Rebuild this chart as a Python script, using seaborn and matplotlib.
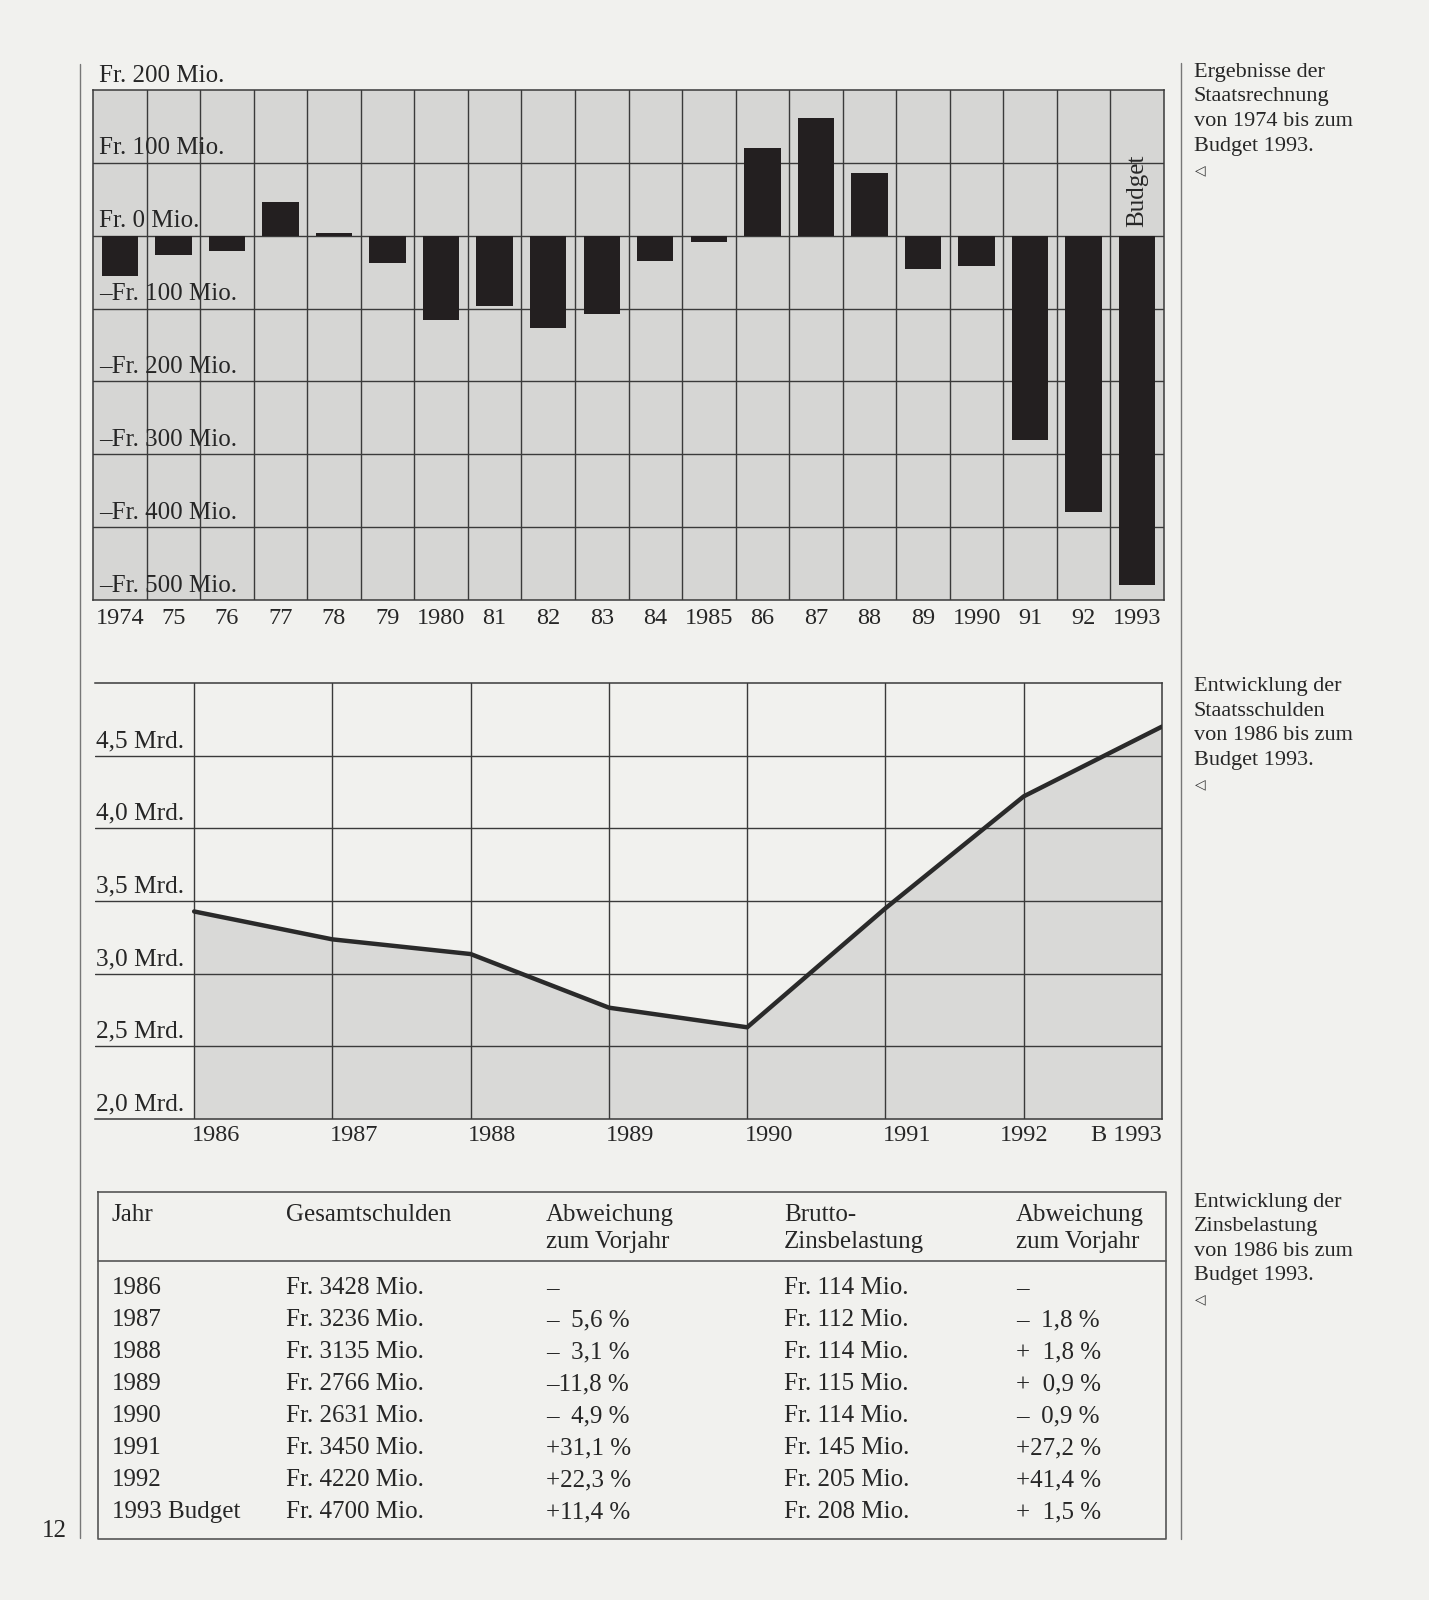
import matplotlib
matplotlib.use("Agg")
import matplotlib.pyplot as plt
import matplotlib.transforms as mtransforms
import seaborn as sns
import pandas as pd

# ---------------- data ----------------
bar_years = ['1974', '75', '76', '77', '78', '79', '1980', '81', '82', '83',
             '84', '1985', '86', '87', '88', '89', '1990', '91', '92', '1993']
bar_balance = [-55, -27, -21, 46, 4, -37, -116, -96, -127, -107,
               -35, -9, 121, 161, 86, -46, -41, -281, -379, -479]
bar_ticks = [200, 100, 0, -100, -200, -300, -400, -500]
bar_tick_labels = ['Fr. 200 Mio.', 'Fr. 100 Mio.', 'Fr. 0 Mio.', '–Fr. 100 Mio.',
                   '–Fr. 200 Mio.', '–Fr. 300 Mio.', '–Fr. 400 Mio.', '–Fr. 500 Mio.']

debt_years = [1986, 1987, 1988, 1989, 1990, 1991, 1992, 1993]
debt_mrd = [3.428, 3.236, 3.135, 2.766, 2.631, 3.450, 4.220, 4.700]
debt_ticks = [2.0, 2.5, 3.0, 3.5, 4.0, 4.5]
debt_tick_labels = ['2,0 Mrd.', '2,5 Mrd.', '3,0 Mrd.', '3,5 Mrd.', '4,0 Mrd.', '4,5 Mrd.']
debt_xlabels = ['1986', '1987', '1988', '1989', '1990', '1991', '1992', 'B 1993']

table_head1 = ['Jahr', 'Gesamtschulden', 'Abweichung', 'Brutto-', 'Abweichung']
table_head2 = ['', '', 'zum Vorjahr', 'Zinsbelastung', 'zum Vorjahr']
table_jahr = ['1986', '1987', '1988', '1989', '1990', '1991', '1992', '1993 Budget']
table_gesamt = ['Fr. 3428 Mio.', 'Fr. 3236 Mio.', 'Fr. 3135 Mio.', 'Fr. 2766 Mio.',
                'Fr. 2631 Mio.', 'Fr. 3450 Mio.', 'Fr. 4220 Mio.', 'Fr. 4700 Mio.']
table_abw1 = ['–', '–  5,6 %', '–  3,1 %', '–11,8 %', '–  4,9 %', '+31,1 %', '+22,3 %', '+11,4 %']
table_zins = ['Fr. 114 Mio.', 'Fr. 112 Mio.', 'Fr. 114 Mio.', 'Fr. 115 Mio.',
              'Fr. 114 Mio.', 'Fr. 145 Mio.', 'Fr. 205 Mio.', 'Fr. 208 Mio.']
table_abw2 = ['–', '–  1,8 %', '+  1,8 %', '+  0,9 %', '–  0,9 %', '+27,2 %', '+41,4 %', '+  1,5 %']

side_notes = [
    ['Ergebnisse der', 'Staatsrechnung', 'von 1974 bis zum', 'Budget 1993.', '◁'],
    ['Entwicklung der', 'Staatsschulden', 'von 1986 bis zum', 'Budget 1993.', '◁'],
    ['Entwicklung der', 'Zinsbelastung', 'von 1986 bis zum', 'Budget 1993.', '◁'],
]
page_number = '12'

# ---------------- style ----------------
sns.set_theme(style="white")
plt.rcParams['font.family'] = ['Liberation Serif', 'DejaVu Serif']
PAGE = '#f1f1ee'
GRID = '#3a3a3a'
INK = '#231f20'
TXT = '#262626'

W, H = 1429, 1600
fig = plt.figure(figsize=(W / 100, H / 100), dpi=100, facecolor=PAGE)

def frac(x0, y0, x1, y1):
    return [x0 / W, 1 - y1 / H, (x1 - x0) / W, (y1 - y0) / H]

# ---------------- top bar chart ----------------
ax1 = fig.add_axes(frac(93, 90, 1164, 600))
ax1.set_facecolor('#d6d6d4')
df = pd.DataFrame({'year': bar_years, 'value': bar_balance})
sns.barplot(data=df, x='year', y='value', order=bar_years, color=INK,
            saturation=1, width=0.68, ax=ax1, zorder=3, linewidth=0)
ax1.set_xlim(-0.5, len(bar_years) - 0.5)
ax1.set_ylim(-500, 200)
for i in range(len(bar_years) - 1):
    ax1.axvline(i + 0.5, color=GRID, lw=1, zorder=1)
for t in bar_ticks[1:-1]:
    ax1.axhline(t, color=GRID, lw=1, zorder=1)
for s in ax1.spines.values():
    s.set_visible(True)
    s.set_color(GRID)
    s.set_linewidth(1.1)
ax1.set_yticks([])
ax1.set_xlabel('')
ax1.set_ylabel('')
ax1.set_xticks(range(len(bar_years)))
ax1.set_xticklabels(bar_years, fontsize=17.5, color=TXT)
ax1.tick_params(axis='x', length=0, pad=6)
tr1 = mtransforms.blended_transform_factory(ax1.transAxes, ax1.transData)
for t, lab in zip(bar_ticks, bar_tick_labels):
    ax1.annotate(lab, xy=(0.0, t), xycoords=tr1, xytext=(4.5, 2.5),
                 textcoords='offset points', ha='left', va='bottom',
                 fontsize=18, color=TXT, zorder=4, annotation_clip=False)
ax1.text(len(bar_years) - 1, 12, 'Budget', rotation=90, ha='center', va='bottom',
         fontsize=18, color=TXT, zorder=4)

# ---------------- line chart ----------------
ax2 = fig.add_axes(frac(95, 683, 1162, 1119))
ax2.set_facecolor(PAGE)
ax2.fill_between(debt_years, debt_mrd, 2.0, color='#d9d9d7', zorder=1, lw=0)
sns.lineplot(x=debt_years, y=debt_mrd, color='#2a2a2a', lw=3.2, ax=ax2, zorder=4)
left_lim = debt_years[0] - 0.717
ax2.set_xlim(left_lim, debt_years[-1])
ax2.set_ylim(2.0, 5.0)
for t in debt_ticks[1:]:
    ax2.axhline(t, color=GRID, lw=1, zorder=2)
for yv in debt_years[:-1]:
    ax2.axvline(yv, color=GRID, lw=1, zorder=2)
for name, s in ax2.spines.items():
    s.set_color(GRID)
    s.set_linewidth(1.1)
    s.set_visible(name != 'left')
ax2.set_xticks([])
ax2.set_yticks([])
tr2 = mtransforms.blended_transform_factory(ax2.transAxes, ax2.transData)
for t, lab in zip(debt_ticks, debt_tick_labels):
    ax2.annotate(lab, xy=(0.0, t), xycoords=tr2, xytext=(1, 2.5),
                 textcoords='offset points', ha='left', va='bottom',
                 fontsize=18.3, color=TXT, annotation_clip=False)
trx = mtransforms.blended_transform_factory(ax2.transData, ax2.transAxes)
aligns = ['left'] * 6 + ['center', 'right']
for yv, lab, ha in zip(debt_years, debt_xlabels, aligns):
    ax2.text(yv - (0.02 if ha == 'left' else 0), -0.038, lab, transform=trx,
             ha=ha, va='center', fontsize=17.5, color=TXT)

# ---------------- page overlay: table, rules, notes ----------------
pg = fig.add_axes([0, 0, 1, 1], zorder=-1)
pg.set_xlim(0, W)
pg.set_ylim(H, 0)
pg.axis('off')
pg.patch.set_alpha(0)

# margin rules
pg.plot([79.6, 79.6], [64, 1538], color='#777', lw=1)
pg.plot([1181, 1181], [63, 1539], color='#777', lw=1)
pg.text(54, 1531, page_number, ha='center', va='center', fontsize=18, color=TXT)

# table
tx0, ty0, tx1, ty1 = 98, 1192, 1166, 1539
pg.plot([tx0, tx1, tx1, tx0, tx0], [ty0, ty0, ty1, ty1, ty0], color='#555', lw=1.2)
pg.plot([tx0, tx1], [1260.5, 1260.5], color='#555', lw=1.2)
col_x = [112, 286, 546, 784, 1016]
for cx, h1, h2 in zip(col_x, table_head1, table_head2):
    pg.text(cx, 1215, h1, ha='left', va='center', fontsize=18, color=TXT)
    if h2:
        pg.text(cx, 1242, h2, ha='left', va='center', fontsize=18, color=TXT)
row_y0, row_dy = 1288.5, 31.95
cols = [table_jahr, table_gesamt, table_abw1, table_zins, table_abw2]
for r in range(len(table_jahr)):
    yy = row_y0 + r * row_dy
    for cx, col in zip(col_x, cols):
        pg.text(cx, yy, col[r], ha='left', va='center', fontsize=18, color=TXT)

# side notes
note_y0 = [72.5, 687, 1202]
for y0, lines in zip(note_y0, side_notes):
    for k, line in enumerate(lines):
        if line == '◁':
            pg.text(1195, y0 + k * 24.5, line, ha='left', va='center',
                    fontsize=10, color='#333')
        else:
            pg.text(1194, y0 + k * 24.5, line, ha='left', va='center',
                    fontsize=16, color=TXT)

fig.savefig('out.png', dpi=100, facecolor=PAGE)
